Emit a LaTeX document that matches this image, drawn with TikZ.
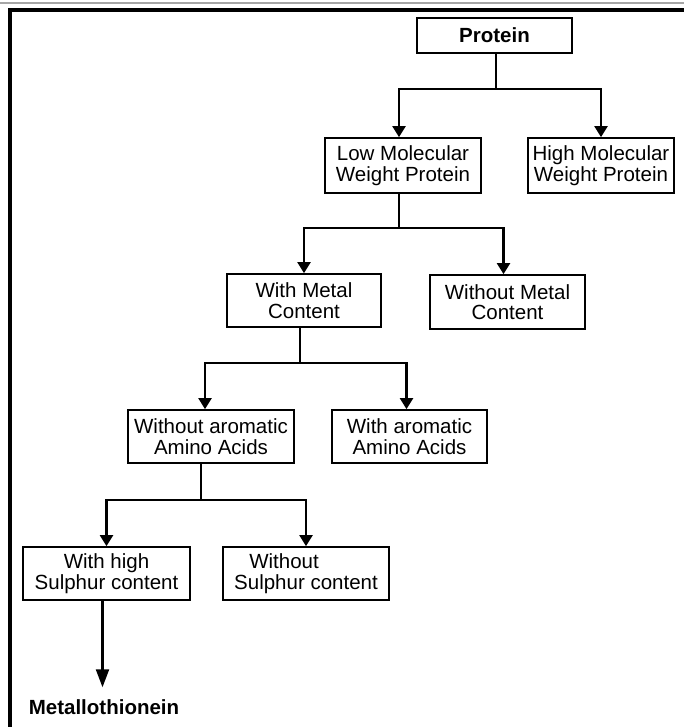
\documentclass[tikz,border=0pt]{standalone}
\usepackage{fontspec}
\setmainfont{Liberation Sans}
\usetikzlibrary{arrows.meta}
\tikzset{
  box/.style={draw, line width=1.7pt, align=center, inner sep=0pt,
    font=\fontsize{20.5}{20.5}\selectfont},
  link/.style={line width=2.2pt},
  arr/.style={link, -{Triangle[width=13pt,length=11pt]}},
}

\begin{document}
\begin{tikzpicture}[x=1pt,y=-1pt]
      \useasboundingbox (0,0) rectangle (684,727);
      % frame
      \draw[gray!70, line width=1.2pt] (0,3) -- (684,3);
      \draw[line width=4pt] (10,727) -- (10,10) -- (684,10);

      % boxes
      \node[box, minimum width=155pt, minimum height=35pt, font=\fontsize{20.5}{20.5}\selectfont\bfseries] (prot) at (494.5,35.5) {Protein};
      \node[box, minimum width=156pt, minimum height=55pt] (lmw) at (403,165.5) {Low Molecular\\Weight Protein};
      \node[box, minimum width=146pt, minimum height=55pt] (hmw) at (601,165.5) {High Molecular\\Weight Protein};
      \node[box, minimum width=154pt, minimum height=53pt] (wmc) at (304,300.5) {With Metal\\Content};
      \node[box, minimum width=155pt, minimum height=54pt] (womc) at (507.5,302) {Without Metal\\Content};
      \node[box, minimum width=166pt, minimum height=53pt] (woaa) at (211,436.5) {Without aromatic\\Amino Acids};
      \node[box, minimum width=155pt, minimum height=53pt] (waa) at (409.5,436.5) {With aromatic\\Amino Acids};
      \node[box, minimum width=167pt, minimum height=53pt] (whs) at (106.5,573.5) {With high\\Sulphur content};
      \node[box, minimum width=166pt, minimum height=53pt] (wos) at (306,573.5) {Without\hspace*{44pt}\\Sulphur content};
      \node[font=\fontsize{20.5}{20.5}\selectfont\bfseries, inner sep=0pt] (met) at (104,707) {Metallothionein};

      % junctions
      \coordinate (j1) at (496,89);
      \coordinate (j2) at (399,228);
      \coordinate (j3) at (300,363);
      \coordinate (j4) at (201,500);

      % connectors
      \draw[link] (prot.south -| j1) -- (j1);
      \draw[arr] (j1) -| ([xshift=-4pt]lmw.north);
      \draw[arr] (j1) -| (hmw.north);

      \draw[link] (lmw.south -| j2) -- (j2);
      \draw[arr] (j2) -| (wmc.north);
      \draw[arr] (j2) -| ([xshift=-4pt]womc.north);

      \draw[link] (wmc.south -| j3) -- (j3);
      \draw[arr] (j3) -| ([xshift=-6pt]woaa.north);
      \draw[arr] (j3) -| ([xshift=-3pt]waa.north);

      \draw[link] (woaa.south -| j4) -- (j4);
      \draw[arr] (j4) -| (whs.north);
      \draw[arr] (j4) -| (wos.north);

      \draw[link, shorten >=12pt, -{Triangle[width=13pt,length=18pt]}] ([xshift=-4pt]whs.south) -- ([xshift=-4pt]whs.south |- met.north);
\end{tikzpicture}
\end{document}
